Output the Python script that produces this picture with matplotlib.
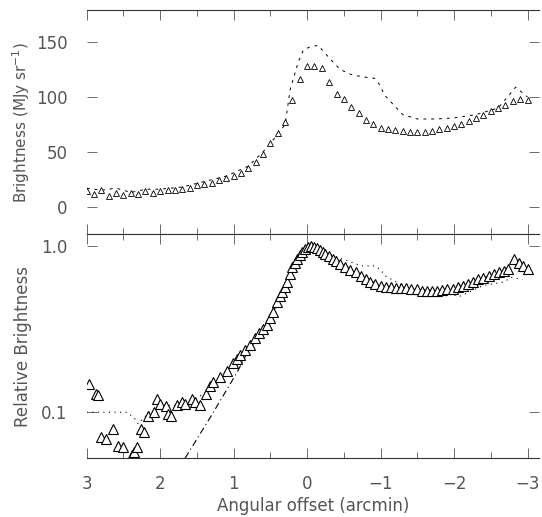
import numpy as np
import matplotlib.pyplot as plt

# top panel: brightness (MJy/sr) vs angular offset (arcmin)
off_a = np.round(np.arange(3.0, -3.01, -0.1), 2)
bright_a = [14, 12, 15, 10, 13, 11, 13, 12, 14, 13,
            14, 15, 15, 16, 17, 20, 21, 22, 24, 26,
            28, 31, 35, 41, 48, 58, 67, 77, 97, 116,
            128, 128, 126, 114, 103, 98, 91, 85, 79, 75,
            72, 71, 70, 69, 68, 68, 68, 69, 71, 72,
            74, 75, 78, 81, 84, 87, 90, 93, 96, 98, 97]

off_b = [3.0, 2.8, 2.6, 2.4, 2.2, 2.0, 1.7, 1.4, 1.1, 0.8, 0.6, 0.4, 0.3, 0.23,
         0.12, 0.05, -0.05, -0.15, -0.31, -0.45, -0.62, -0.8, -0.92, -0.99,
         -1.05, -1.3, -1.5, -1.66, -1.76, -2.0, -2.3, -2.6, -2.84, -3.0]
bright_b = [17, 15, 17, 13, 16, 16, 18, 23, 28, 37, 50, 66, 75, 107,
            132, 143, 146, 147, 135, 125, 120, 118, 117, 111,
            102, 84, 80, 80, 80, 81, 84, 90, 109, 100]

# bottom panel: relative brightness (log)
off_rel = [2.97, 2.88, 2.85, 2.81, 2.74, 2.64, 2.57, 2.51, 2.38, 2.36, 2.31, 2.26,
           2.22, 2.16, 2.09, 2.04, 2.00, 1.92, 1.89, 1.85, 1.77, 1.70, 1.66, 1.57,
           1.53, 1.46, 1.38, 1.32, 1.28, 1.19, 1.09, 1.01, 0.96, 0.92, 0.85, 0.78,
           0.71, 0.65, 0.60, 0.55, 0.51, 0.47, 0.41, 0.37, 0.34, 0.30, 0.27, 0.23,
           0.20, 0.17, 0.14, 0.10, 0.07, 0.03, -0.01, -0.05, -0.09, -0.13, -0.17,
           -0.21, -0.25, -0.30, -0.35, -0.39, -0.45, -0.52, -0.59, -0.66, -0.73,
           -0.80, -0.86, -0.93, -1.00, -1.07, -1.14, -1.21, -1.28, -1.35, -1.42,
           -1.49, -1.56, -1.63, -1.70, -1.77, -1.84, -1.91, -1.98, -2.05, -2.12,
           -2.19, -2.26, -2.33, -2.40, -2.47, -2.54, -2.61, -2.68, -2.74, -2.82,
           -2.88, -2.94, -3.00]
rel_a = [0.148, 0.128, 0.127, 0.071, 0.069, 0.079, 0.063, 0.062, 0.055, 0.058, 0.062, 0.079,
         0.076, 0.095, 0.100, 0.120, 0.112, 0.109, 0.097, 0.095, 0.110, 0.115, 0.112, 0.120,
         0.115, 0.110, 0.128, 0.144, 0.152, 0.163, 0.177, 0.198, 0.210, 0.222, 0.238, 0.255,
         0.278, 0.300, 0.318, 0.337, 0.370, 0.400, 0.464, 0.500, 0.533, 0.570, 0.610, 0.680,
         0.746, 0.790, 0.834, 0.880, 0.920, 0.960, 0.990, 1.000, 0.990, 0.980, 0.950,
         0.920, 0.900, 0.870, 0.840, 0.810, 0.780, 0.746, 0.720, 0.700, 0.665,
         0.630, 0.610, 0.590, 0.577, 0.565, 0.565, 0.560, 0.560, 0.560, 0.555,
         0.550, 0.540, 0.535, 0.535, 0.540, 0.545, 0.550, 0.555, 0.565, 0.575,
         0.590, 0.610, 0.630, 0.645, 0.660, 0.680, 0.695, 0.710, 0.725, 0.834,
         0.790, 0.760, 0.725]

off_relb = [3.0, 2.8, 2.6, 2.45, 2.35, 2.3, 2.25, 2.15, 2.0, 1.8, 1.6, 1.4, 1.2, 1.0,
            0.8, 0.6, 0.4, 0.2, 0.1, 0.0, -0.1, -0.2, -0.4, -0.57, -0.74, -0.93,
            -1.01, -1.07, -1.3, -1.6, -2.08, -2.4, -2.69, -2.77, -2.93]
rel_b = [0.10, 0.10, 0.10, 0.10, 0.092, 0.085, 0.09, 0.10, 0.11, 0.11, 0.115, 0.13, 0.16, 0.20,
         0.25, 0.32, 0.47, 0.75, 0.90, 0.99, 0.99, 0.94, 0.86, 0.81, 0.76, 0.76,
         0.71, 0.66, 0.58, 0.54, 0.50, 0.58, 0.61, 0.65, 0.63]

off_model = [1.66, 1.30, 0.95, 0.80, 0.70, 0.50, 0.30, 0.15, 0.05, -0.05, -0.20, -0.40,
             -0.70, -1.00, -1.40, -1.80, -2.20, -2.50, -2.75]
rel_model = [0.053, 0.096, 0.175, 0.235, 0.270, 0.370, 0.570, 0.800, 0.930, 0.990, 0.940, 0.810,
             0.680, 0.575, 0.550, 0.540, 0.590, 0.670, 0.720]

grey = '#555555'
plt.rcParams['font.family'] = 'DejaVu Sans'
plt.rcParams['font.size'] = 12

fig, (ax1, ax2) = plt.subplots(2, 1, sharex=True, figsize=(5.42, 5.17), dpi=100)
fig.subplots_adjust(left=0.16, right=0.995, top=0.98, bottom=0.114, hspace=0)

ax1.plot(off_b, bright_b, color='black', lw=0.7, ls=(0, (3, 5)))
ax1.plot(off_a, bright_a, ls='none', marker='^', ms=5, mfc='white', mec='black', mew=0.6)
ax1.set_ylim(-25, 179)
ax1.set_yticks([0, 50, 100, 150])
ax1.set_ylabel('Brightness (MJy sr$^{-1}$)', color=grey, fontsize=11)
ax1.yaxis.set_label_coords(-0.12, 0.5)

ax2.plot(off_relb, rel_b, color='black', lw=0.8, ls=(0, (1, 4)))
ax2.plot(off_model, rel_model, color='black', lw=0.8, ls=(0, (6, 3, 1, 3)))
ax2.plot(off_rel, rel_a, ls='none', marker='^', ms=6.5, mfc='white', mec='black', mew=0.8)
ax2.set_yscale('log')
ax2.set_ylim(0.053, 1.18)
ax2.set_yticks([0.1, 1.0])
ax2.set_yticklabels(['0.1', '1.0'])
ax2.yaxis.set_minor_locator(plt.NullLocator())
ax2.set_ylabel('Relative Brightness', color=grey)
ax2.yaxis.set_label_coords(-0.12, 0.5)

ax2.set_xlim(3.0, -3.16)
ax2.set_xticks([3, 2, 1, 0, -1, -2, -3])
ax2.set_xticklabels(['3', '2', '1', '0', '\u22121', '\u22122', '\u22123'])
ax2.set_xticks(np.arange(2.5, -3.0, -1.0), minor=True)
ax2.set_xlabel('Angular offset (arcmin)', color=grey, labelpad=3)

for ax in (ax1, ax2):
    for side in ('left', 'right'):
        ax.spines[side].set_visible(False)
    for side in ('top', 'bottom'):
        ax.spines[side].set_color('#333333')
        ax.spines[side].set_linewidth(0.8)
    ax.tick_params(which='both', direction='in', top=True, right=True,
                   colors=grey, width=0.6)
    ax.tick_params(which='major', length=7, pad=12)
    ax.tick_params(which='minor', length=4)
    ax.tick_params(axis='y', pad=14)

fig.savefig('out.png', dpi=100)
